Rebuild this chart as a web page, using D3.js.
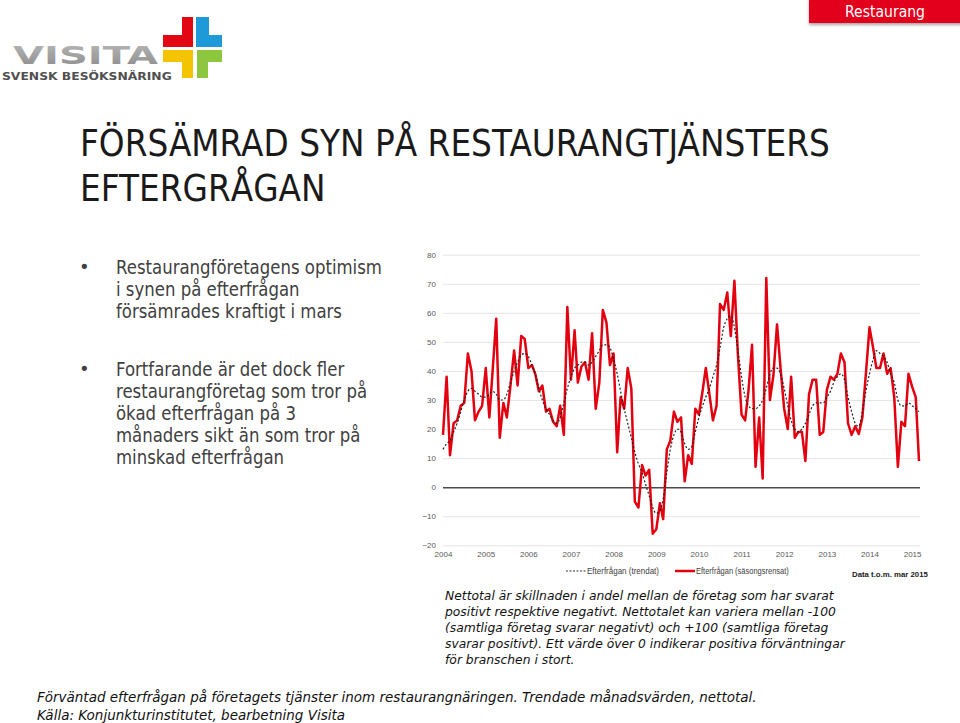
<!DOCTYPE html>
<html>
<head>
<meta charset="utf-8">
<script src="https://cdn.jsdelivr.net/npm/d3@7/dist/d3.min.js"></script>
<style>
  html, body { margin: 0; padding: 0; background: #fff; }
  svg { display: block; }
</style>
</head>
<body>
<svg id="chart" width="960" height="723"></svg>
<script>
// ---------------- DATA ----------------
const startDate = new Date(2004, 0, 1);
const endDate = new Date(2015, 2, 1);
const months = d3.timeMonths(startDate, new Date(2015, 3, 1)); // Jan 2004 .. Mar 2015
const yearTicks = d3.range(2004, 2016);
const yTicks = [-20, -10, 0, 10, 20, 30, 40, 50, 60, 70, 80];

// Efterfrågan (säsongsrensat) – monthly, Jan 2004 .. Mar 2015
const seasonal = [
  18, 38, 11, 22, 23, 28, 29, 46, 40, 23, 26, 28,
  41, 24, 40, 58, 17, 29, 24, 35, 47, 35, 52, 51,
  41, 42, 39, 33, 35, 26, 27, 22.5, 21, 28, 18, 62,
  37, 54, 36, 41.5, 43, 37, 53, 27, 36, 61, 56.6, 42,
  46, 12, 31, 27, 41, 34, -5, -7, 7.6, 4, 6, -16,
  -14.5, -5.5, -11, 13, 16, 26, 22.5, 24, 2, 11, 8, 27,
  25, 33, 41, 32, 23, 28, 63, 61, 67, 52, 71, 45.5,
  25, 23, 33, 49, 7, 24, 3, 72, 30, 38.5, 56, 41,
  27, 20, 38, 17, 19, 19, 9, 32, 37, 37, 18, 19,
  33.5, 38, 37, 39, 46, 43, 22, 18, 21, 18.3, 24, 39,
  55, 48, 41, 41, 46, 39, 41, 31, 7, 22.5, 21, 39,
  34.6, 31, 9
];

// Efterfrågan (trendat) – monthly, Jan 2004 .. Mar 2015
const trend = [
  13, 15, 16, 19, 22, 26, 30, 33, 34, 33, 32, 31,
  31, 32, 33, 32, 30, 30, 32, 36, 40, 43, 45.5, 46,
  45, 42, 39, 34, 30, 27, 25, 23, 22, 24, 29, 34,
  38, 41, 42, 43, 43, 42, 43, 45, 47, 49, 49, 48,
  44, 39, 33, 27, 22, 17, 12, 8, 5, 1, -3, -7,
  -9, -8, -4, 5, 13, 18, 20, 19, 15, 13, 14, 19,
  24, 28, 31, 34, 38, 42, 48, 55, 58, 59, 55, 47,
  38, 31, 28, 27, 27, 28, 30, 34, 39, 41, 41, 39,
  34, 28, 23, 20, 19, 20, 22, 25, 28, 29, 29, 29,
  31, 33, 36, 38, 39, 37, 31, 26, 22, 21, 26, 33,
  39, 44, 47, 46, 45, 43, 39, 36, 30, 28, 28, 29,
  28, 27, 26
];

const seriesNames = ["Efterfrågan (trendat)", "Efterfrågan (säsongsrensat)"];
const titleLines = ["FÖRSÄMRAD SYN PÅ RESTAURANGTJÄNSTERS", "EFTERGRÅGAN"];
const bullet1 = ["Restaurangföretagens optimism", "i synen på efterfrågan", "försämrades kraftigt i mars"];
const bullet2 = ["Fortfarande är det dock fler", "restaurangföretag som tror på", "ökad efterfrågan på 3", "månaders sikt än som tror på", "minskad efterfrågan"];
const noteLines = [
  "Nettotal är skillnaden i andel mellan de företag som har svarat",
  "positivt respektive negativt. Nettotalet kan variera mellan -100",
  "(samtliga företag svarar negativt) och +100 (samtliga företag",
  "svarar positivt). Ett värde över 0 indikerar positiva förväntningar",
  "för branschen i stort."
];
const captionLines = [
  "Förväntad efterfrågan på företagets tjänster inom restaurangnäringen. Trendade månadsvärden, nettotal.",
  "Källa: Konjunkturinstitutet, bearbetning Visita"
];
const dataNote = "Data t.o.m. mar 2015";
const tabLabel = "Restaurang";

// ---------------- HELPERS ----------------
const svg = d3.select("#chart");
const SANS = "'DejaVu Sans', Verdana, sans-serif";
const ARIAL = "'Liberation Sans', Arial, sans-serif";

// Text block whose horizontal size is matched with a group scale (keeps real text)
function textBlock(lines, x, y0, lh, opts) {
  const g = svg.append("g");
  const t = g.selectAll("text").data(lines).join("text")
    .attr("x", 0)
    .attr("y", (d, i) => y0 + i * lh)
    .attr("font-family", opts.family)
    .attr("font-size", opts.size)
    .attr("font-style", opts.style || "normal")
    .attr("font-weight", opts.weight || "normal")
    .attr("fill", opts.fill)
    .text(d => d);
  let r = opts.ratio || 1;
  let w0 = t.nodes()[opts.refIndex || 0].getComputedTextLength();
  if (opts.refWidth) r = opts.refWidth / w0;
  let tx = x;
  if (opts.anchor === "middle") tx = x - (w0 * r) / 2;
  g.attr("transform", `translate(${tx},0) scale(${r},1)`);
  return r;
}

// ---------------- DEFS ----------------
const defs = svg.append("defs");
const sh = defs.append("filter").attr("id", "shadow").attr("x", "-10%").attr("y", "-20%").attr("width", "130%").attr("height", "180%");
sh.append("feDropShadow").attr("dx", 0).attr("dy", 2).attr("stdDeviation", 1.5).attr("flood-color", "#000").attr("flood-opacity", 0.35);
const lg = defs.append("linearGradient").attr("id", "visitaGrad").attr("x1", 0).attr("y1", 0).attr("x2", 0).attr("y2", 1);
lg.append("stop").attr("offset", "0%").attr("stop-color", "#b8b8b8");
lg.append("stop").attr("offset", "100%").attr("stop-color", "#8a8a8a");

// ---------------- TAB ----------------
svg.append("rect").attr("x", 809).attr("y", -2).attr("width", 155).attr("height", 25)
  .attr("fill", "#e2001a").attr("filter", "url(#shadow)");
textBlock([tabLabel], 885, 17, 0, { family: SANS, size: 15, fill: "#fff", refWidth: 80, anchor: "middle" });

// ---------------- LOGO ----------------
textBlock(["VISITA"], 13, 64, 0, { family: SANS, size: 24, weight: "bold", fill: "url(#visitaGrad)", refWidth: 145 });
textBlock(["SVENSK BESÖKSNÄRING"], 2, 80.5, 0, { family: SANS, size: 11, weight: "bold", fill: "#505050", refWidth: 170 });
const crossParts = [
  { fill: "#e30613", pts: [[163,35],[182,35],[182,17],[193,17],[193,47],[163,47]] },
  { fill: "#1f9ad8", pts: [[196,17],[209,17],[209,35],[222,35],[222,47],[196,47]] },
  { fill: "#f5c400", pts: [[163,50],[193,50],[193,78],[182,78],[182,62],[163,62]] },
  { fill: "#8dc63f", pts: [[197,50],[222,50],[222,62],[208,62],[208,78],[197,78]] }
];
svg.append("g").selectAll("path").data(crossParts).join("path")
  .attr("d", d => "M" + d.pts.map(p => p.join(",")).join("L") + "Z")
  .attr("fill", d => d.fill);

// ---------------- TITLE ----------------
textBlock(titleLines, 80, 156, 45, { family: SANS, size: 38, fill: "#1a1a1a", refWidth: 750 });

// ---------------- BULLETS ----------------
textBlock(["•"], 79, 273, 0, { family: SANS, size: 18, fill: "#404040" });
textBlock(["•"], 79, 375, 0, { family: SANS, size: 18, fill: "#404040" });
const bRatio = textBlock(bullet1, 116, 274, 22, { family: SANS, size: 19.5, fill: "#404040", refWidth: 266 });
textBlock(bullet2, 116, 376, 22, { family: SANS, size: 19.5, fill: "#404040", ratio: bRatio });

// ---------------- CHART ----------------
const x = d3.scaleTime().domain([startDate, endDate]).range([443, 919]);
const y = d3.scaleLinear().domain([-20, 80]).range([545.3, 254.7]);
const gridRight = 920;

const yAxis = svg.append("g").attr("transform", "translate(443,0)")
  .call(d3.axisLeft(y).tickValues(yTicks).tickSize(-(gridRight - 443)).tickPadding(7));
yAxis.select(".domain").remove();
yAxis.selectAll(".tick line").attr("stroke", d => d === 0 ? "#4a4a4a" : "#e4e4e4")
  .attr("stroke-width", d => d === 0 ? 1.5 : 1);
yAxis.selectAll(".tick text").attr("font-family", ARIAL).attr("font-size", 8).attr("fill", "#595959");

const xAxis = svg.append("g").attr("transform", "translate(0,545.3)")
  .call(d3.axisBottom(x).tickValues(yearTicks.map(yr => new Date(yr, 0, 1)))
    .tickFormat(d3.timeFormat("%Y")).tickSize(0).tickPadding(6));
xAxis.select(".domain").remove();
xAxis.selectAll(".tick text").attr("font-family", ARIAL).attr("font-size", 8).attr("fill", "#595959");

const line = d3.line().x((d, i) => x(months[i])).y(d => y(d));
svg.append("path").datum(seasonal).attr("d", line)
  .attr("fill", "none").attr("stroke", "#e3000f").attr("stroke-width", 2.5).attr("stroke-linejoin", "round");
svg.append("path").datum(trend).attr("d", line.curve(d3.curveMonotoneX))
  .attr("fill", "none").attr("stroke", "#222").attr("stroke-width", 1.2).attr("stroke-dasharray", "2,2");

// Legend
svg.append("line").attr("x1", 566).attr("x2", 586).attr("y1", 571).attr("y2", 571)
  .attr("stroke", "#333").attr("stroke-width", 1).attr("stroke-dasharray", "2,1.5");
textBlock([seriesNames[0]], 587, 574, 0, { family: ARIAL, size: 8.5, fill: "#404040", refWidth: 72 });
svg.append("line").attr("x1", 675).attr("x2", 695).attr("y1", 571).attr("y2", 571)
  .attr("stroke", "#e3000f").attr("stroke-width", 2.5);
textBlock([seriesNames[1]], 696, 574, 0, { family: ARIAL, size: 8.5, fill: "#404040", refWidth: 93 });
textBlock([dataNote], 852, 577, 0, { family: ARIAL, size: 8, weight: "bold", fill: "#1a1a1a", refWidth: 76 });

// ---------------- NOTES ----------------
textBlock(noteLines, 445, 600, 16, { family: SANS, size: 12.5, style: "italic", fill: "#111", refWidth: 389 });
textBlock(captionLines, 37, 702, 18, { family: SANS, size: 14.5, style: "italic", fill: "#111", refWidth: 720 });
</script>
</body>
</html>
